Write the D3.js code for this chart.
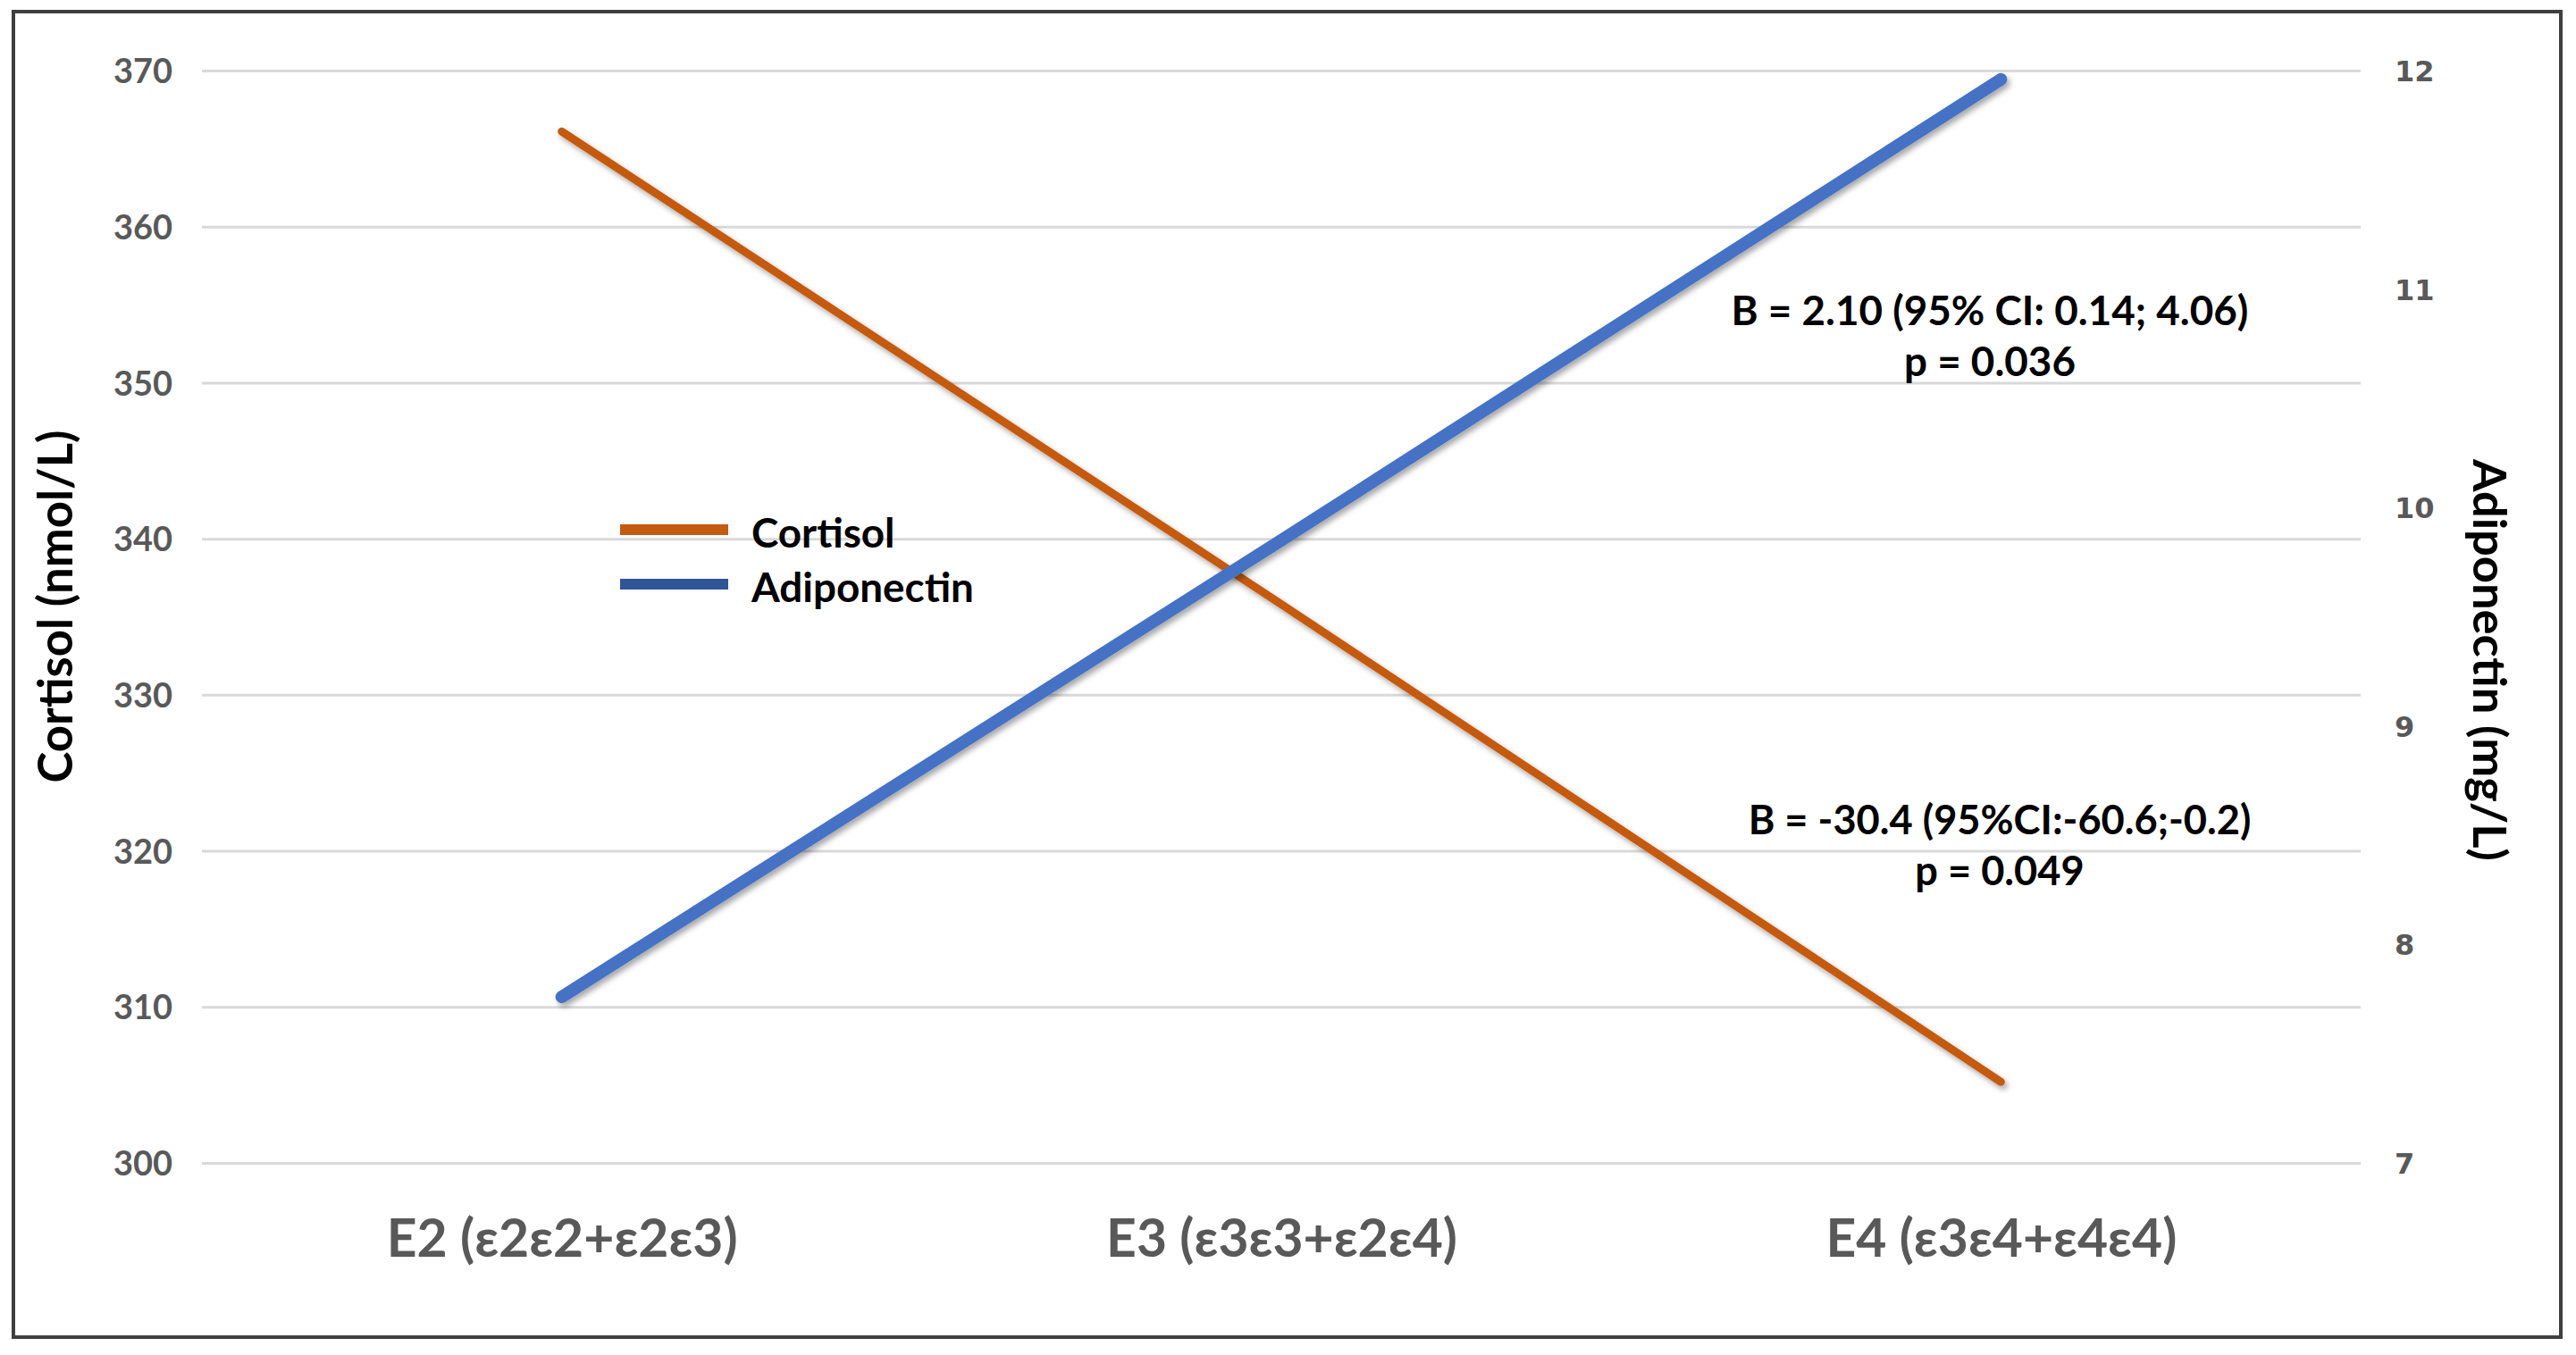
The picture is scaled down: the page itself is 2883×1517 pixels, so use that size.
<html lang="en">
  <head>
    <meta charset="UTF-8" />
    <title>Cortisol and adiponectin by APOE group</title>
    <script src="https://cdn.jsdelivr.net/npm/d3@7"></script>
  </head>
  <body>
    <style>
      * {
        box-sizing: border-box;
        margin: 0;
        padding: 0;
      }
      body {
        background: #ffffff;
        width: 2883px;
        height: 1517px;
        overflow: hidden;
      }
      text {
        font-family: Lato, "Noto Sans", sans-serif;
        font-weight: 700;
      }
    </style>
    <svg id="chart"></svg>

    <script>
      // data
      const categories = ["E2 (ε2ε2+ε2ε3)", "E3 (ε3ε3+ε2ε4)", "E4 (ε3ε4+ε4ε4)"];
      const seriesNames = ["Cortisol", "Adiponectin"];
      const cortisol = [366.1, 335.8, 305.2];
      const adiponectin = [7.76, 9.85, 11.96];
      const cortisolTicks = [300, 310, 320, 330, 340, 350, 360, 370];
      const adiponectinTicks = [7, 8, 9, 10, 11, 12];
      const noteAdiponectin = ["B = 2.10 (95% CI: 0.14; 4.06)", "p = 0.036"];
      const noteCortisol = ["B = -30.4 (95%CI:-60.6;-0.2)", "p = 0.049"];

      const W = 2883;
      const H = 1517;
      const plot = { left: 226, right: 2642, top: 79, bottom: 1302 };
      const orange = "#C55A11";
      const blue = "#4472C4";
      const legendBlue = "#2F5597";
      const grey = "#595959";

      // make a text fit a given width (Calibri is not installed)
      function fitWidth(sel, w) {
        const node = sel.node();
        const fs = parseFloat(sel.style("font-size"));
        const len = node.getComputedTextLength();
        sel.style("font-size", (fs * w) / len + "px");
        return (fs * w) / len;
      }

      function draw() {
        const svg = d3.select("#chart").attr("width", W).attr("height", H);

        // shadow like the office charts
        const defs = svg.append("defs");
        defs
          .append("filter")
          .attr("id", "shadow")
          .attr("x", "-10%")
          .attr("y", "-10%")
          .attr("width", "120%")
          .attr("height", "120%")
          .append("feDropShadow")
          .attr("dx", 3)
          .attr("dy", 4)
          .attr("stdDeviation", 3)
          .attr("flood-color", "#000")
          .attr("flood-opacity", 0.35);

        svg.append("rect").attr("width", W).attr("height", H).attr("fill", "#fff");

        // outer frame
        svg
          .append("rect")
          .attr("x", 15)
          .attr("y", 13)
          .attr("width", 2851)
          .attr("height", 1484)
          .attr("fill", "none")
          .attr("stroke", "#3f3f3f")
          .attr("stroke-width", 4);

        // scales
        const x = d3
          .scalePoint()
          .domain(categories)
          .range([plot.left, plot.right])
          .padding(0.5);
        const yL = d3.scaleLinear().domain([300, 370]).range([plot.bottom, plot.top]);
        const yR = d3.scaleLinear().domain([7, 12]).range([plot.bottom, plot.top]);

        // left axis + gridlines
        const gL = svg
          .append("g")
          .attr("transform", `translate(${plot.left},0)`)
          .call(
            d3
              .axisLeft(yL)
              .tickValues(cortisolTicks)
              .tickSizeInner(-(plot.right - plot.left))
              .tickSizeOuter(0)
              .tickPadding(33)
          );
        gL.select(".domain").remove();
        gL.selectAll(".tick line").attr("stroke", "#d9d9d9").attr("stroke-width", 3);
        gL.selectAll(".tick text")
          .attr("fill", grey)
          .style("font-size", "38px")
          .attr("dy", "0.36em");

        // right axis
        const gR = svg
          .append("g")
          .attr("transform", `translate(${plot.right},0)`)
          .call(
            d3
              .axisRight(yR)
              .tickValues(adiponectinTicks)
              .tickFormat(d3.format("d"))
              .tickSize(0)
              .tickPadding(38)
          );
        gR.select(".domain").remove();
        gR.selectAll(".tick text")
          .attr("fill", grey)
          .style("font-family", '"DejaVu Sans", sans-serif')
          .style("font-size", "32px")
          .attr("dy", "0.36em");

        // category axis
        const gX = svg
          .append("g")
          .attr("transform", `translate(0,${plot.bottom})`)
          .call(d3.axisBottom(x).tickSize(0));
        gX.select(".domain").remove();
        const xt = gX.selectAll(".tick text")
          .attr("fill", grey)
          .attr("y", 105)
          .attr("dy", 0)
          .style("font-size", "64px");
        const xfs = fitWidth(d3.select(xt.nodes()[0]), 393);
        xt.style("font-size", xfs + "px");

        // axis titles
        const tl = svg
          .append("text")
          .attr("transform", "translate(63,679) rotate(-90)")
          .attr("text-anchor", "middle")
          .attr("dy", "0.35em")
          .attr("fill", "#000")
          .style("font-size", "52px")
          .text("Cortisol (nmol/L)");
        fitWidth(tl, 395);

        const tr = svg
          .append("text")
          .attr("transform", "translate(2786,739) rotate(90)")
          .attr("text-anchor", "middle")
          .attr("dy", "0.35em")
          .attr("fill", "#000")
          .style("font-size", "52px")
          .text("Adiponectin (mg/L)");
        fitWidth(tr, 450);

        // lines
        const lineL = d3
          .line()
          .x((d, i) => x(categories[i]))
          .y((d) => yL(d));
        const lineR = d3
          .line()
          .x((d, i) => x(categories[i]))
          .y((d) => yR(d));

        svg
          .append("path")
          .datum(cortisol)
          .attr("d", lineL)
          .attr("fill", "none")
          .attr("stroke", orange)
          .attr("stroke-width", 9)
          .attr("stroke-linecap", "round")
          .attr("stroke-linejoin", "round")
          .attr("filter", "url(#shadow)");

        svg
          .append("path")
          .datum(adiponectin)
          .attr("d", lineR)
          .attr("fill", "none")
          .attr("stroke", blue)
          .attr("stroke-width", 14)
          .attr("stroke-linecap", "round")
          .attr("stroke-linejoin", "round")
          .attr("filter", "url(#shadow)");

        // legend
        const legendColors = [orange, legendBlue];
        const legend = svg
          .selectAll(".legend")
          .data(seriesNames)
          .enter()
          .append("g")
          .attr("class", "legend")
          .attr("transform", (d, i) => `translate(694,${593 + i * 61})`);
        legend
          .append("line")
          .attr("x1", 0)
          .attr("x2", 121)
          .attr("stroke", (d, i) => legendColors[i])
          .attr("stroke-width", 12);
        const lt = legend
          .append("text")
          .attr("x", 147)
          .attr("y", 20)
          .attr("fill", "#000")
          .style("font-size", "46px")
          .text((d) => d);
        const lfs = fitWidth(d3.select(lt.nodes()[1]), 249);
        lt.style("font-size", lfs + "px");

        // annotations
        function note(lines, cx, y0, w) {
          const t = svg
            .selectAll(null)
            .data(lines)
            .enter()
            .append("text")
            .attr("x", cx)
            .attr("y", (d, i) => y0 + i * 57)
            .attr("text-anchor", "middle")
            .attr("fill", "#000")
            .style("font-size", "48px")
            .text((d) => d);
          const fs = fitWidth(d3.select(t.nodes()[0]), w);
          t.style("font-size", fs + "px");
        }
        note(noteAdiponectin, 2227, 364, 579);
        note(noteCortisol, 2238, 934, 563);
      }

      document.fonts.ready.then(draw);
    </script>
  </body>
</html>
